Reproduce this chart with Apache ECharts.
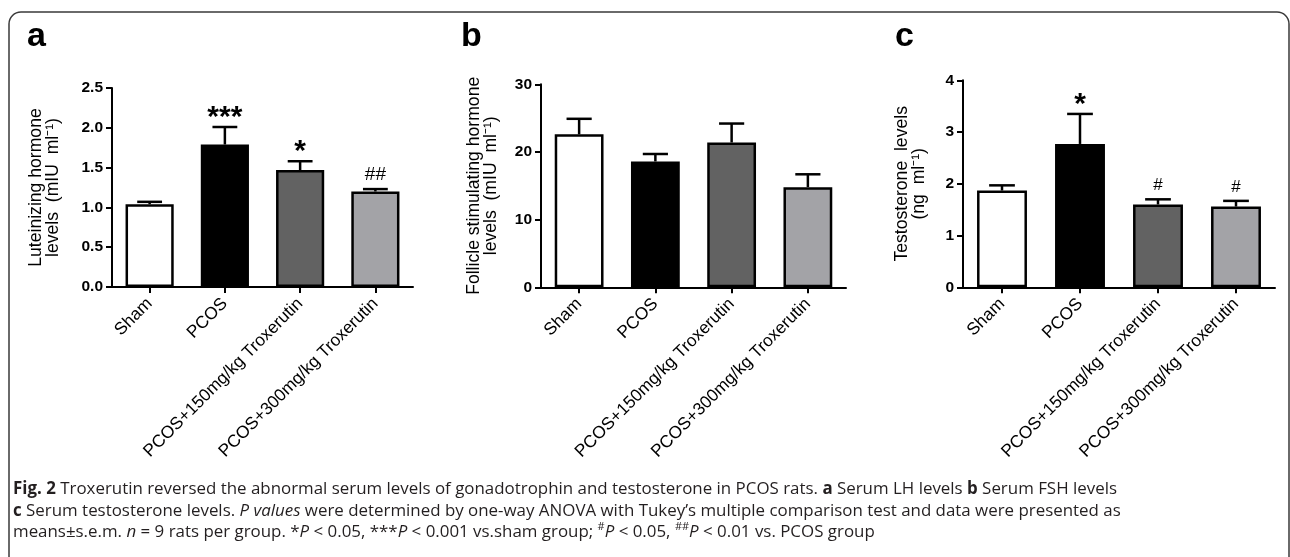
<!DOCTYPE html>
<html><head><meta charset="utf-8">
<script src="https://cdn.jsdelivr.net/npm/echarts@6/dist/echarts.min.js"></script>
<style>
html,body{margin:0;padding:0;background:#fff;}
#chart{position:absolute;left:0;top:0;width:1290px;height:557px;}
#cap{position:absolute;left:13px;top:477px;font-family:"Open Sans",sans-serif;font-size:16.9px;line-height:21.5px;color:#231f20;white-space:nowrap;}
#cap sup{font-size:11px;line-height:0;vertical-align:7px;}
</style></head><body>
<div id="chart"></div>
<div id="cap"><b>Fig. 2</b> Troxerutin reversed the abnormal serum levels of gonadotrophin and testosterone in PCOS rats. <b>a</b> Serum LH levels <b>b</b> Serum FSH levels<br><b>c</b> Serum testosterone levels. <i>P values</i> were determined by one-way ANOVA with Tukey’s multiple comparison test and data were presented as<br>means±s.e.m. <i>n</i> = 9 rats per group. *<i>P</i> &lt; 0.05, ***<i>P</i> &lt; 0.001 vs.sham group; <sup>#</sup><i>P</i> &lt; 0.05, <sup>##</sup><i>P</i> &lt; 0.01 vs. PCOS group</div>
<script>
// ---- data ----
const categories = ['Sham', 'PCOS', 'PCOS+150mg/kg Troxerutin', 'PCOS+300mg/kg Troxerutin'];
const lhMean = [1.04, 1.79, 1.47, 1.20];
const lhErr  = [0.03, 0.22, 0.11, 0.03];
const lhMarks = ['', '***', '*', '##'];
const fshMean = [22.6, 18.6, 21.4, 14.8];
const fshErr  = [2.3, 1.1, 2.8, 1.9];
const fshMarks = ['', '', '', ''];
const tMean = [1.87, 2.77, 1.60, 1.56];
const tErr  = [0.10, 0.58, 0.10, 0.11];
const tMarks = ['', '*', '#', '#'];
const lhTicks = {min: 0, max: 2.5, interval: 0.5, digits: 1};
const fshTicks = {min: 0, max: 30, interval: 10, digits: 0};
const tTicks = {min: 0, max: 4, interval: 1, digits: 0};

const barColors = ['#ffffff', '#000000', '#626262', '#a3a3a7'];
const FONT = '"Liberation Sans", Arial, sans-serif';

const chart = echarts.init(document.getElementById('chart'), null, {renderer: 'canvas'});

const grids = [
  {left: 112, top: 88, width: 301, height: 199, outerBoundsMode: 'none'},
  {left: 541, top: 84.3, width: 305, height: 203, outerBoundsMode: 'none'},
  {left: 963, top: 80.3, width: 312, height: 207, outerBoundsMode: 'none'}
];
const yNames = [
  'Luteinizing hormone\nlevels  (mIU  ml⁻¹)',
  'Follicle stimulating hormone\nlevels  (mIU  ml⁻¹)',
  'Testosterone  levels\n(ng  ml⁻¹)'
];
const nameGaps = [50, 41, 35];
const ticks = [lhTicks, fshTicks, tTicks];
const means = [lhMean, fshMean, tMean];
const errs = [lhErr, fshErr, tErr];
const marks = [lhMarks, fshMarks, tMarks];

const axisLine = {show: true, lineStyle: {color: '#000', width: 2}};
const axisTick = {show: true, length: 6, lineStyle: {color: '#000', width: 2}};

const xAxes = grids.map((g, k) => ({
  type: 'category', gridIndex: k, data: categories,
  axisLine, axisTick: Object.assign({alignWithLabel: true}, axisTick),
  axisLabel: {rotate: 45, margin: 14, fontSize: 17.3, color: '#000', fontFamily: FONT, interval: 0},
  splitLine: {show: false}
}));
const yAxes = grids.map((g, k) => ({
  type: 'value', gridIndex: k, min: ticks[k].min, max: ticks[k].max, interval: ticks[k].interval,
  axisLine, axisTick,
  axisLabel: {margin: 9, fontSize: 15.5, fontWeight: 'bold', color: '#000', fontFamily: FONT,
    formatter: v => v.toFixed(ticks[k].digits)},
  splitLine: {show: false},
  name: yNames[k], nameLocation: 'middle', nameRotate: 90, nameGap: nameGaps[k],
  nameTextStyle: {fontSize: 17.6, lineHeight: 17.5, color: '#000', fontFamily: FONT}
}));

function makeErr(k) {
  const mk = marks[k];
  return function (params, api) {
    const i = api.value(0), m = api.value(1), e = api.value(2);
    const base = api.coord([i, m]);
    const top = api.coord([i, m + e]);
    const bw = api.size([1, 0])[0];
    const hw = bw * 0.165;
    const children = [
      {type: 'line', shape: {x1: base[0], y1: base[1], x2: top[0], y2: top[1]}, style: {stroke: '#000', lineWidth: 2.5}},
      {type: 'line', shape: {x1: top[0] - hw, y1: top[1], x2: top[0] + hw, y2: top[1]}, style: {stroke: '#000', lineWidth: 2.5}}
    ];
    const t = mk[params.dataIndex];
    if (t) {
      const star = t.indexOf('*') >= 0;
      const fs = star ? 30 : (t.length > 1 ? 19 : 17);
      children.push({type: 'text', x: top[0], y: top[1] - (star ? 9 : 14),
        style: {text: t, fill: '#000', font: (star ? 'bold ' : '') + fs + 'px ' + FONT, align: 'center', verticalAlign: 'middle'}});
    }
    return {type: 'group', children};
  };
}

const series = [];
grids.forEach((g, k) => {
  series.push({
    type: 'bar', xAxisIndex: k, yAxisIndex: k, barCategoryGap: '36%',
    data: means[k].map((v, i) => ({value: v, itemStyle: {color: barColors[i]}})),
    itemStyle: {borderColor: '#000', borderWidth: 2.5},
    silent: true, animation: false
  });
  series.push({
    type: 'custom', xAxisIndex: k, yAxisIndex: k,
    data: means[k].map((v, i) => [i, v, errs[k][i]]),
    encode: {x: 0, y: 1},
    renderItem: makeErr(k), silent: true, animation: false, z: 3
  });
});

chart.setOption({
  animation: false,
  grid: grids,
  xAxis: xAxes,
  yAxis: yAxes,
  series,
  graphic: [
    {type: 'rect', shape: {x: 9, y: 12, width: 1280, height: 600, r: [12, 12, 0, 0]},
      style: {fill: 'none', stroke: '#3a3a3a', lineWidth: 1.5}, silent: true},
    {type: 'text', x: 27, y: 54, style: {text: 'a', font: 'bold 34px ' + FONT, fill: '#000', verticalAlign: 'bottom'}},
    {type: 'text', x: 461, y: 54, style: {text: 'b', font: 'bold 34px ' + FONT, fill: '#000', verticalAlign: 'bottom'}},
    {type: 'text', x: 895, y: 54, style: {text: 'c', font: 'bold 34px ' + FONT, fill: '#000', verticalAlign: 'bottom'}}
  ]
});
</script>
</body></html>
